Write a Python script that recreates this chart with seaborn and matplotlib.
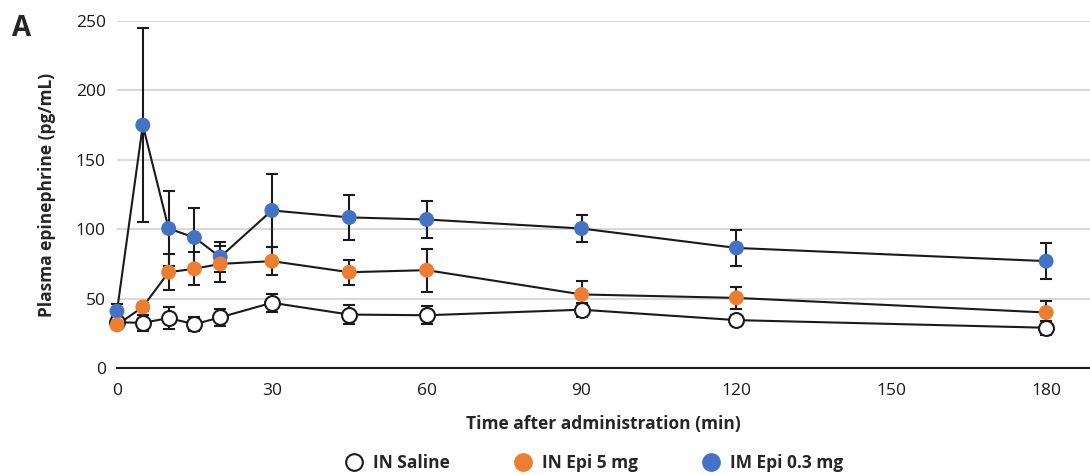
import pandas as pd
import matplotlib.pyplot as plt
import seaborn as sns
from matplotlib.lines import Line2D

# minutes after administration
times = [0, 5, 10, 15, 20, 30, 45, 60, 90, 120, 180]

# mean plasma epinephrine (pg/mL) and SE per group
in_saline = [33, 32.5, 36, 31.5, 36.5, 47, 38.5, 38, 42, 34.5, 29]
in_saline_se = [4, 6, 8, 5, 6, 6.5, 7, 6.5, 5, 3.5, 5]
in_epi_5 = [31, 44, 69, 71.5, 75, 77, 69, 70.5, 53, 50.5, 40]
in_epi_5_se = [3, 3, 13, 12, 13, 10, 9, 15.5, 10, 8, 8]
im_epi_03 = [41, 175, 100.5, 94, 80, 113.5, 108.5, 107, 100.5, 86.5, 77]
im_epi_03_se = [5, 70, 27, 21, 11, 26, 16, 13.5, 9.6, 13, 13]

groups = ['IN Saline', 'IN Epi 5 mg', 'IM Epi 0.3 mg']
colors = {'IN Saline': 'white', 'IN Epi 5 mg': '#ED7D31', 'IM Epi 0.3 mg': '#4472C4'}
edges = {'IN Saline': '#1a1a1a', 'IN Epi 5 mg': 'none', 'IM Epi 0.3 mg': 'none'}

df = pd.concat([
    pd.DataFrame({'time': times, 'value': in_saline, 'se': in_saline_se, 'group': groups[0]}),
    pd.DataFrame({'time': times, 'value': in_epi_5, 'se': in_epi_5_se, 'group': groups[1]}),
    pd.DataFrame({'time': times, 'value': im_epi_03, 'se': im_epi_03_se, 'group': groups[2]}),
], ignore_index=True)

sns.set_style('white')
plt.rcParams['font.family'] = ['Open Sans', 'DejaVu Sans']

fig = plt.figure(figsize=(10.9, 4.75), dpi=100)
ax = fig.add_axes([117 / 1090, 107 / 475, 1 - 117 / 1090, (368 - 21) / 475])

# black connecting lines
sns.lineplot(data=df, x='time', y='value', units='group', estimator=None,
             color='#1a1a1a', linewidth=1.5, ax=ax, zorder=2, legend=False)

# error bars
for g in groups:
    sub = df[df['group'] == g]
    ax.errorbar(sub['time'], sub['value'], yerr=sub['se'], fmt='none',
                ecolor='#1a1a1a', elinewidth=1.5, capsize=4.5, capthick=1.5,
                zorder=3, clip_on=False)

# markers (orange drawn on top)
for g, z in [('IN Saline', 4), ('IM Epi 0.3 mg', 5), ('IN Epi 5 mg', 6)]:
    sub = df[df['group'] == g]
    sns.scatterplot(data=sub, x='time', y='value', color=colors[g],
                    edgecolor=edges[g], linewidth=1.5, s=115, ax=ax,
                    zorder=z, clip_on=False, legend=False)

ax.set_xlim(0, 188.5)
ax.set_ylim(0, 250)
ax.set_xticks([0, 30, 60, 90, 120, 150, 180])
ax.set_xticks(list(range(10, 190, 10)), minor=True)
ax.set_yticks([0, 50, 100, 150, 200, 250])
ax.yaxis.grid(True, color='#d9d9d9', linewidth=1.5)
ax.set_axisbelow(True)

for s in ['top', 'right', 'left']:
    ax.spines[s].set_visible(False)
ax.spines['bottom'].set_color('#1a1a1a')
ax.spines['bottom'].set_linewidth(1.5)

ax.tick_params(axis='x', which='both', direction='out', length=8, width=1.5,
               color='#1a1a1a', labelsize=12.5, pad=3, labelcolor='#1a1a1a')
ax.tick_params(axis='y', length=0, labelsize=12.5, pad=8, labelcolor='#1a1a1a')

ax.set_xlabel('Time after administration (min)', fontsize=12.5, fontweight='bold',
              labelpad=11)
ax.set_ylabel('Plasma epinephrine (pg/mL)', fontsize=12.5, fontweight='bold',
              labelpad=14)

fig.text(22 / 1090, 1 - 28 / 475, 'A', fontsize=20, fontweight='bold',
         ha='center', va='center')

handles = [Line2D([], [], linestyle='none', marker='o', markersize=12,
                  markerfacecolor=colors[g],
                  markeredgecolor=edges[g] if edges[g] != 'none' else colors[g],
                  markeredgewidth=1.5)
           for g in groups]
fig.legend(handles, groups, loc='center', bbox_to_anchor=(590 / 1090, 1 - 463 / 475),
           ncol=3, frameon=False, handletextpad=0.1, columnspacing=3.2,
           prop={'weight': 'bold', 'size': 12.5})

fig.savefig('out.png', dpi=100)
